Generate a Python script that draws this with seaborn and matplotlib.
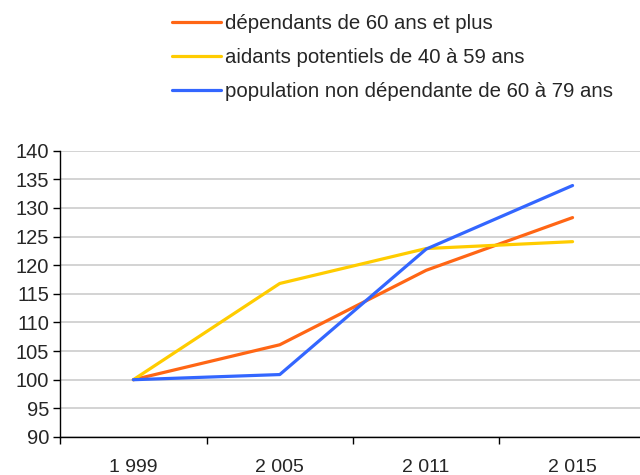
import pandas as pd
import matplotlib.pyplot as plt
import seaborn as sns

# données (base 100 en 1999)
years = ["1 999", "2 005", "2 011", "2 015"]
dependants = [100, 106.1, 119.1, 128.3]
aidants = [100, 116.8, 122.9, 124.1]
non_dependants = [100, 100.9, 122.8, 133.9]

series_names = [
    "dépendants de 60 ans et plus",
    "aidants potentiels de 40 à 59 ans",
    "population non dépendante de 60 à 79 ans",
]
colors = ["#FF6615", "#FFCC00", "#3366FF"]

rows = []
for name, vals in zip(series_names, [dependants, aidants, non_dependants]):
    for i, v in enumerate(vals):
        rows.append({"pos": i, "year": years[i], "value": v, "serie": name})
df = pd.DataFrame(rows)

sns.set_style("white")
plt.rcParams["font.family"] = ["Liberation Sans", "DejaVu Sans"]

fig = plt.figure(figsize=(6.4, 4.75), dpi=100)
ax = fig.add_axes([0.094, 0.08, 0.915, 0.603])

sns.lineplot(data=df, x="pos", y="value", hue="serie", palette=colors,
             hue_order=series_names, linewidth=2.3, ax=ax, legend=False)

ax.set_xlim(-0.5, 3.5)
ax.set_ylim(90, 140)
ax.set_yticks(range(90, 141, 5))
ax.yaxis.grid(True, color="#C8C8C8", linewidth=1.1)
ax.xaxis.grid(False)

# ticks entre les catégories, étiquettes au centre
ax.set_xticks([-0.5, 0.5, 1.5, 2.5, 3.5])
ax.set_xticklabels([])
ax.set_xticks(range(len(years)), minor=True)
ax.set_xticklabels(years, minor=True)
ax.tick_params(axis="x", which="major", bottom=True, length=5, width=1,
               color="black", direction="out")
ax.tick_params(axis="x", which="minor", bottom=True, length=0, pad=16, labelsize=14)
ax.tick_params(axis="y", left=True, length=5, width=1, color="black",
               direction="out", labelsize=14.5, pad=3)

ax.set_xlabel("")
ax.set_ylabel("")
for s in ["top", "right"]:
    ax.spines[s].set_visible(False)
for s in ["left", "bottom"]:
    ax.spines[s].set_color("black")
    ax.spines[s].set_linewidth(1)

handles = [plt.Line2D([], [], color=c, linewidth=2.3) for c in colors]
fig.legend(handles, series_names, loc="upper left", bbox_to_anchor=(0.246, 1.0),
           frameon=False, fontsize=14.7, handlelength=2.4, handletextpad=0.2,
           labelspacing=0.72, borderaxespad=0.3)

fig.savefig("out.png", dpi=100)
